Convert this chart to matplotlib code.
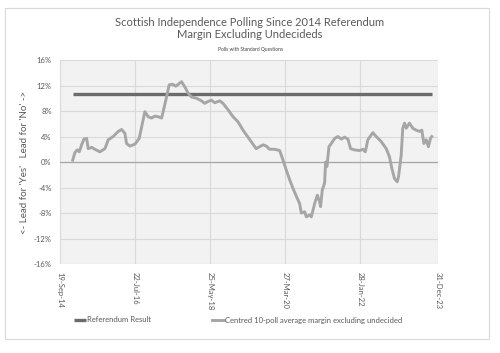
import pandas as pd
import matplotlib
matplotlib.use('Agg')
import matplotlib.pyplot as plt
import matplotlib.dates as mdates
from matplotlib.patches import Rectangle

# Centred 10-poll average margin (No minus Yes, % excluding undecided)
poll_dates = [
    '2015-01-11', '2015-01-31', '2015-02-21', '2015-03-11', '2015-04-01', '2015-04-22',
    '2015-05-16', '2015-05-30', '2015-06-30', '2015-07-29', '2015-09-12', '2015-10-27',
    '2015-11-26', '2016-01-09', '2016-02-23', '2016-03-25', '2016-04-23', '2016-05-08',
    '2016-06-07', '2016-07-22', '2016-08-29', '2016-09-20', '2016-10-19', '2016-11-18',
    '2016-12-18', '2017-01-17', '2017-02-15', '2017-03-18', '2017-04-01', '2017-04-25',
    '2017-05-25', '2017-06-24', '2017-07-24', '2017-08-22', '2017-09-13', '2017-10-12',
    '2017-11-11', '2017-12-11', '2018-01-25', '2018-03-11', '2018-04-09', '2018-05-09',
    '2018-06-08', '2018-07-08', '2018-08-22', '2018-09-20', '2018-11-04', '2018-12-19',
    '2019-02-02', '2019-03-18', '2019-05-02', '2019-07-14', '2019-08-14', '2019-09-13',
    '2019-10-13', '2019-11-12', '2019-12-27', '2020-02-10', '2020-03-11', '2020-04-10',
    '2020-05-10', '2020-06-08', '2020-07-09', '2020-08-07', '2020-08-22', '2020-09-21',
    '2020-10-06', '2020-11-05', '2020-11-20', '2020-12-20', '2021-01-13', '2021-02-02',
    '2021-02-11', '2021-02-26', '2021-03-19', '2021-03-28', '2021-04-09', '2021-04-27',
    '2021-05-18', '2021-06-17', '2021-07-16', '2021-08-16', '2021-09-14', '2021-10-14',
    '2021-11-07', '2021-12-13', '2022-01-27', '2022-02-25', '2022-03-19', '2022-04-11',
    '2022-05-05', '2022-05-26', '2022-06-25', '2022-08-09', '2022-09-23', '2022-10-22',
    '2022-11-12', '2022-12-06', '2022-12-30', '2023-01-11', '2023-02-04', '2023-02-18',
    '2023-03-06', '2023-03-21', '2023-04-19', '2023-05-19', '2023-06-18', '2023-07-18',
    '2023-08-08', '2023-08-26', '2023-09-16', '2023-10-06', '2023-10-24', '2023-11-05',
]
margin = [
    0.3, 1.5, 1.9, 1.6, 2.7, 3.6,
    3.7, 2.1, 2.3, 2.0, 1.6, 2.1,
    3.5, 4.0, 4.8, 5.1, 4.5, 2.9,
    2.5, 2.8, 3.7, 5.5, 7.9, 7.1,
    6.9, 7.2, 7.1, 6.9, 7.9, 9.7,
    12.1, 12.2, 11.9, 12.3, 12.6, 11.8,
    10.8, 10.2, 10.0, 9.6, 9.2, 9.5,
    9.7, 9.3, 9.6, 9.2, 8.2, 7.1,
    6.3, 5.0, 3.9, 2.1, 2.4, 2.7,
    2.5, 2.0, 2.0, 1.8, 0.3, -1.3,
    -2.8, -4.1, -5.4, -6.5, -8.0, -7.8,
    -8.6, -8.3, -8.6, -6.5, -5.2, -6.2,
    -7.0, -4.4, -3.3, 0.0, -0.7, 2.4,
    2.9, 3.7, 4.0, 3.6, 3.9, 3.6,
    2.1, 1.9, 1.8, 2.0, 1.6, 3.5,
    4.1, 4.6, 4.0, 3.2, 2.1, 0.8,
    -1.0, -2.6, -3.1, -2.3, 1.1, 5.3,
    6.1, 5.3, 6.1, 5.3, 5.0, 4.8,
    5.0, 2.9, 3.5, 2.4, 3.7, 4.0,
]
referendum_margin = 10.6
ref_dates = ['2015-01-11', '2023-11-05']

tick_dates = ['2014-09-19', '2016-07-22', '2018-05-25', '2020-03-27', '2022-01-28', '2023-12-31']
y_ticks = [-16, -12, -8, -4, 0, 4, 8, 12, 16]

plt.rcParams['font.family'] = ['Lato', 'DejaVu Sans']
grey_txt = '#595959'

fig = plt.figure(figsize=(5, 3.53), dpi=100)
fig.patches.append(Rectangle((5 / 500, 1 - 339 / 353), 484 / 500, 331 / 353,
                             transform=fig.transFigure, fill=False,
                             edgecolor='#d9d9d9', lw=0.8))
ax = fig.add_axes([0.12, 0.252, 0.756, 0.578])
ax.set_facecolor('#f2f2f2')

x = pd.to_datetime(poll_dates)
xr = pd.to_datetime(ref_dates)
ax.plot(xr, [referendum_margin] * 2, color='#6b6b6b', lw=2.4, solid_capstyle='butt',
        label='Referendum Result', zorder=3)
ax.plot(x, margin, color='#a6a6a6', lw=2.1, label='Centred 10-poll average margin excluding undecided',
        zorder=3)
ax.axhline(0, color='#a6a6a6', lw=0.9, zorder=2)

ax.set_xlim(pd.Timestamp(tick_dates[0]), pd.Timestamp(tick_dates[-1]))
ax.set_ylim(-16, 16)
ax.set_xticks(pd.to_datetime(tick_dates))
ax.xaxis.set_major_formatter(mdates.DateFormatter('%d-%b-%y'))
ax.set_yticks(y_ticks)
ax.set_yticklabels([f'{v}%' for v in y_ticks])
ax.grid(True, color='#d9d9d9', lw=0.8)
ax.set_axisbelow(True)
for s in ax.spines.values():
    s.set_visible(False)
ax.tick_params(length=0, colors=grey_txt, labelsize=5.5, pad=6)
for lab in ax.get_xticklabels():
    lab.set_rotation(270)
    lab.set_ha('center')
    lab.set_va('top')
ax.set_ylabel("<- Lead for 'Yes'   Lead for 'No' ->", color=grey_txt, fontsize=7)
ax.yaxis.set_label_coords(-0.093, 0.5)
ax.yaxis.label.set_va('center')

fig.text(0.5, 1 - 23 / 353, 'Scottish Independence Polling Since 2014 Referendum',
         ha='center', va='center', fontsize=8, color=grey_txt)
fig.text(0.5, 1 - 35 / 353, 'Margin Excluding Undecideds',
         ha='center', va='center', fontsize=8, color=grey_txt)
fig.text(0.5, 1 - 50 / 353, 'Polls with Standard Questions',
         ha='center', va='center', fontsize=3.5, color='#404040')

fig.legend(loc='center', bbox_to_anchor=(0.476, 1 - 320 / 353), ncol=2, frameon=False,
           fontsize=5.5, labelcolor=grey_txt, handlelength=1.6, handletextpad=0.1,
           columnspacing=8)

plt.savefig('out.png', dpi=100)
